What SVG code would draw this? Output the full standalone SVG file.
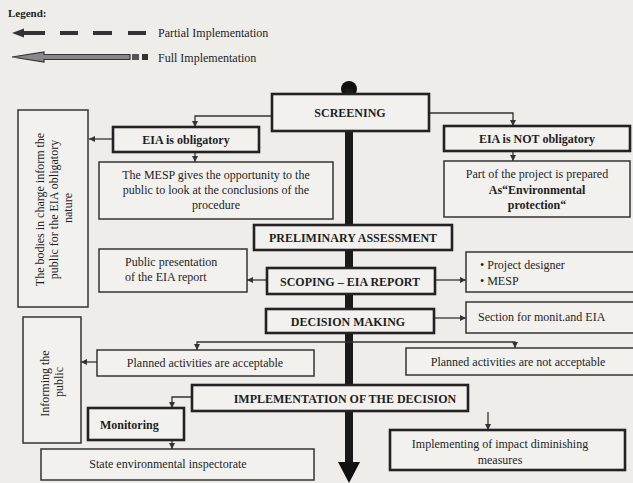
<svg xmlns="http://www.w3.org/2000/svg" width="633" height="483" viewBox="0 0 633 483">
<defs>
<style>
.bg{fill:#eeede9}
.thick{fill:#f2f1ee;stroke:#222;stroke-width:2.6}
.thin{fill:#f2f1ee;stroke:#333;stroke-width:1.5}
.t{font-family:"Liberation Serif","Times New Roman",serif;font-size:12px;fill:#1e1e1e}
.b{font-weight:bold}
.c{text-anchor:middle}
.conn{fill:none;stroke:#333;stroke-width:1.3}
</style>
<marker id="ah" viewBox="0 0 10 10" refX="10" refY="5" markerWidth="6" markerHeight="6" markerUnits="userSpaceOnUse" orient="auto">
<path d="M0,0 L10,5 L0,10 z" fill="#333"/>
</marker>
</defs>
<rect class="bg" x="0" y="0" width="633" height="483"/>

<g id="legend">
<text class="t b" x="8" y="17" style="font-size:11px">Legend:</text>
<path d="M12,33 L24,28.5 L24,37.5 z" fill="#333"/>
<g stroke="#333" stroke-width="4">
<line x1="23" y1="33" x2="45" y2="33"/>
<line x1="60" y1="33" x2="78" y2="33"/>
<line x1="93" y1="33" x2="112" y2="33"/>
<line x1="128" y1="33" x2="146" y2="33"/>
</g>
<text class="t" x="158" y="37">Partial Implementation</text>
<path d="M12,57 L44,52 L44,54.5 L130,54.5 L130,59.5 L44,59.5 L44,62 z" fill="#888" stroke="#333" stroke-width="1.2"/>
<rect x="132" y="54" width="7" height="6" fill="#555"/>
<rect x="142" y="54" width="6" height="6" fill="#333"/>
<text class="t" x="158" y="62">Full Implementation</text>
</g>

<g id="spine">
<circle cx="349" cy="89" r="8" fill="#111"/>
<rect x="345" y="89" width="8" height="375" fill="#1a1a1a"/>
<path d="M338,462 L360,462 L349,483 z" fill="#111"/>
</g>

<g id="connectors">
<path class="conn" d="M272,116 H195 V127" marker-end="url(#ah)"/>
<path class="conn" d="M430,113 H513 V126" marker-end="url(#ah)"/>
<path class="conn" d="M113,139 H89" marker-end="url(#ah)"/>
<path class="conn" d="M195,152 V162" marker-end="url(#ah)"/>
<path class="conn" d="M513,151 V161" marker-end="url(#ah)"/>
<path class="conn" d="M267,280 H247" marker-end="url(#ah)"/>
<path class="conn" d="M435,280 H466" marker-end="url(#ah)"/>
<path class="conn" d="M434,318 H466" marker-end="url(#ah)"/>
<path class="conn" d="M349,342 H197 V350" marker-end="url(#ah)"/>
<path class="conn" d="M349,342 H515 V348" marker-end="url(#ah)"/>
<path class="conn" d="M97,362 H81" marker-end="url(#ah)"/>
<path class="conn" d="M192,397 H172 V408" marker-end="url(#ah)"/>
<path class="conn" d="M172,440 V449" marker-end="url(#ah)"/>
<path class="conn" d="M488,412 V430" marker-end="url(#ah)"/>
</g>

<g id="screening">
<rect class="thick" x="272" y="94" width="157" height="37"/>
<text class="t b c" x="350" y="117">SCREENING</text>
</g>

<g id="eia-obligatory">
<rect class="thick" x="113" y="127" width="146" height="25"/>
<text class="t b c" x="186" y="144">EIA is obligatory</text>
</g>

<g id="eia-not-obligatory">
<rect class="thick" x="444" y="126" width="186" height="25"/>
<text class="t b c" x="537" y="143">EIA is NOT obligatory</text>
</g>

<g id="bodies">
<rect class="thin" x="18" y="110" width="70" height="197"/>
<text class="t c" transform="translate(44,208) rotate(-90)">
<tspan x="0" y="0">The bodies in charge inform the</tspan>
<tspan x="0" y="14">public for the EIA obligatory</tspan>
<tspan x="0" y="28">nature</tspan>
</text>
</g>

<g id="mesp">
<rect class="thin" x="99" y="162" width="234" height="57"/>
<text class="t c" x="216" y="179">The MESP gives the opportunity to the</text>
<text class="t c" x="216" y="194">public to look at the conclusions of the</text>
<text class="t c" x="216" y="209">procedure</text>
</g>

<g id="part-project">
<rect class="thin" x="444" y="161" width="186" height="56"/>
<text class="t c" x="537" y="178">Part of the project is prepared</text>
<text class="t b c" x="537" y="194">As“Environmental</text>
<text class="t b c" x="537" y="209">protection“</text>
</g>

<g id="preliminary">
<rect class="thick" x="254" y="225" width="198" height="25"/>
<text class="t b c" x="353" y="242">PRELIMINARY ASSESSMENT</text>
</g>

<g id="public-presentation">
<rect class="thin" x="99" y="249" width="148" height="43"/>
<text class="t" x="125" y="266">Public presentation</text>
<text class="t" x="125" y="281">of the EIA report</text>
</g>

<g id="scoping">
<rect class="thick" x="267" y="268" width="168" height="26"/>
<text class="t b c" x="350" y="286">SCOPING – EIA REPORT</text>
</g>

<g id="project-designer">
<rect class="thin" x="466" y="252" width="168" height="40"/>
<text class="t" x="480" y="269">•  Project designer</text>
<text class="t" x="480" y="285">•  MESP</text>
</g>

<g id="decision-making">
<rect class="thick" x="266" y="309" width="168" height="24"/>
<text class="t b c" x="348" y="326">DECISION MAKING</text>
</g>

<g id="section">
<rect class="thin" x="466" y="302" width="168" height="31"/>
<text class="t" x="478" y="321">Section for monit.and EIA</text>
</g>

<g id="acceptable">
<rect class="thin" x="97" y="350" width="217" height="26"/>
<text class="t c" x="205" y="367">Planned activities are acceptable</text>
</g>

<g id="not-acceptable">
<rect class="thin" x="406" y="348" width="228" height="27"/>
<text class="t c" x="518" y="366">Planned activities are not acceptable</text>
</g>

<g id="informing">
<rect class="thin" x="23" y="317" width="58" height="126"/>
<text class="t c" transform="translate(49,382) rotate(-90)">
<tspan x="0" y="0">Informing the</tspan>
<tspan x="0" y="14">public</tspan>
</text>
</g>

<g id="implementation">
<rect class="thick" x="192" y="385" width="276" height="26"/>
<text class="t b c" x="345" y="403">IMPLEMENTATION OF THE DECISION</text>
</g>

<g id="monitoring">
<rect class="thick" x="88" y="408" width="96" height="32"/>
<text class="t b" x="100" y="429">Monitoring</text>
</g>

<g id="state">
<rect class="thin" x="41" y="449" width="273" height="31"/>
<text class="t c" x="168" y="468">State environmental inspectorate</text>
</g>

<g id="implementing">
<rect class="thick" x="390" y="430" width="235" height="40"/>
<text class="t c" x="500" y="448">Implementing of impact diminishing</text>
<text class="t c" x="500" y="464">measures</text>
</g>
</svg>
